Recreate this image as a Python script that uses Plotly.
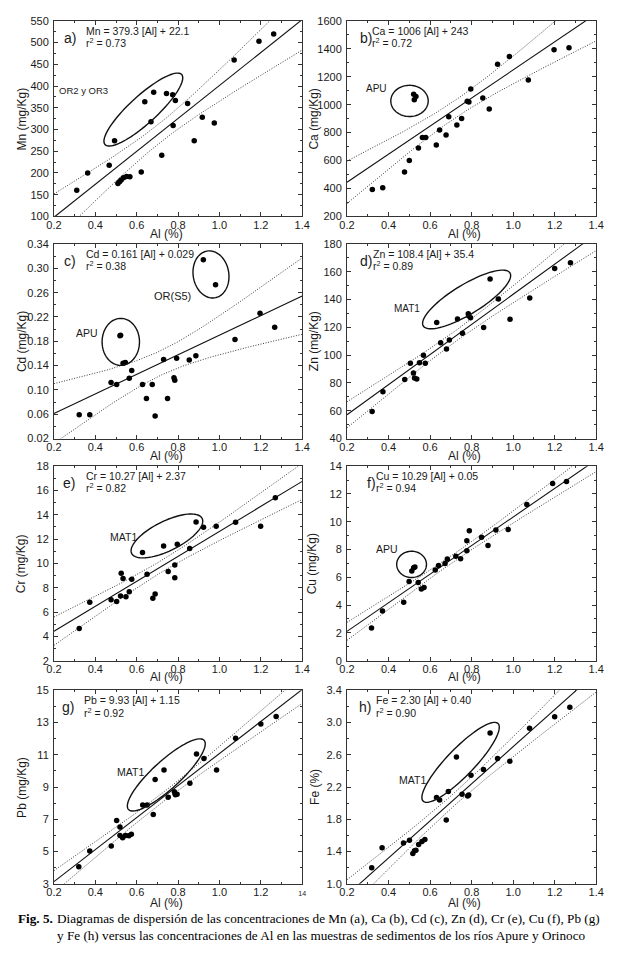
import numpy as np
import plotly.graph_objects as go

# ---------------- data ----------------
al_a = [0.310, 0.363, 0.467, 0.493, 0.509, 0.517, 0.525, 0.536, 0.551, 0.567, 0.622, 0.639, 0.669,
        0.682, 0.721, 0.744, 0.774, 0.776, 0.787, 0.846, 0.878, 0.917, 0.975, 1.071, 1.191, 1.262]
mn = [160, 200, 218, 274, 176, 180, 184, 189, 192, 191, 202, 364, 318,
      386, 241, 383, 380, 309, 367, 360, 274, 328, 315, 460, 503, 520]

al_b = [0.322, 0.372, 0.477, 0.500, 0.521, 0.532, 0.524, 0.544, 0.563, 0.579, 0.630, 0.646, 0.677,
        0.690, 0.729, 0.752, 0.779, 0.787, 0.796, 0.854, 0.885, 0.925, 0.982, 1.073, 1.197, 1.269]
ca = [393, 405, 518, 600, 1075, 1058, 1035, 689, 765, 765, 711, 819, 783,
      913, 854, 901, 1024, 1019, 1113, 1047, 969, 1289, 1346, 1177, 1393, 1407]

al_c = [0.322, 0.373, 0.476, 0.503, 0.519, 0.522, 0.534, 0.545, 0.564, 0.576, 0.628, 0.647, 0.675,
        0.689, 0.730, 0.749, 0.780, 0.784, 0.793, 0.854, 0.886, 0.922, 0.981, 1.075, 1.196, 1.267]
cd = [0.059, 0.059, 0.112, 0.109, 0.189, 0.190, 0.144, 0.145, 0.119, 0.132, 0.109, 0.086, 0.109,
      0.057, 0.150, 0.086, 0.120, 0.116, 0.152, 0.149, 0.156, 0.314, 0.273, 0.183, 0.226, 0.203]

al_d = [0.321, 0.373, 0.478, 0.505, 0.520, 0.525, 0.536, 0.549, 0.568, 0.577, 0.632, 0.651, 0.679,
        0.693, 0.732, 0.756, 0.784, 0.787, 0.795, 0.858, 0.889, 0.929, 0.985, 1.080, 1.200, 1.276]
zn = [59.5, 73.6, 82.4, 94.1, 87.1, 83.5, 82.8, 94.6, 100.0, 94.1, 123.5, 109.0, 104.5,
      111.0, 126.0, 115.8, 129.8, 128.2, 127.0, 120.0, 154.8, 140.5, 125.9, 141.2, 162.4, 166.6]

al_e = [0.322, 0.373, 0.476, 0.503, 0.522, 0.525, 0.534, 0.548, 0.564, 0.576, 0.628, 0.650, 0.678,
        0.689, 0.730, 0.752, 0.784, 0.784, 0.796, 0.856, 0.887, 0.923, 0.984, 1.078, 1.199, 1.270]
cr = [4.64, 6.80, 7.02, 6.86, 7.32, 9.20, 8.75, 7.26, 7.67, 8.69, 10.90, 9.10, 7.13,
      7.48, 11.44, 9.34, 8.83, 9.88, 11.58, 11.23, 13.41, 12.98, 13.06, 13.39, 13.06, 15.41]

al_f = [0.318, 0.371, 0.473, 0.499, 0.512, 0.521, 0.527, 0.543, 0.558, 0.571, 0.625, 0.641, 0.672,
        0.683, 0.724, 0.747, 0.777, 0.777, 0.789, 0.848, 0.879, 0.917, 0.976, 1.066, 1.190, 1.257]
cu = [2.36, 3.57, 4.20, 5.69, 6.45, 6.68, 6.75, 5.62, 5.15, 5.27, 6.52, 6.85, 6.99,
      7.32, 7.51, 7.34, 8.64, 7.91, 9.35, 8.88, 8.29, 9.40, 9.44, 11.24, 12.75, 12.89]

al_g = [0.320, 0.373, 0.477, 0.503, 0.519, 0.519, 0.532, 0.546, 0.562, 0.574, 0.629, 0.650, 0.680,
        0.689, 0.732, 0.752, 0.782, 0.787, 0.795, 0.857, 0.889, 0.925, 0.986, 1.078, 1.200, 1.274]
pb = [4.06, 5.04, 5.35, 6.92, 6.52, 6.00, 5.86, 6.00, 5.98, 6.07, 7.89, 7.89, 7.29,
      9.46, 10.05, 8.36, 8.70, 8.52, 8.56, 9.23, 11.05, 10.77, 10.05, 12.03, 12.91, 13.38]

al_h = [0.319, 0.369, 0.472, 0.501, 0.517, 0.525, 0.532, 0.545, 0.561, 0.575, 0.631, 0.646, 0.678,
        0.688, 0.727, 0.754, 0.781, 0.786, 0.797, 0.857, 0.889, 0.925, 0.984, 1.079, 1.200, 1.273]
fe = [1.200, 1.446, 1.507, 1.540, 1.376, 1.409, 1.417, 1.487, 1.523, 1.548, 2.070, 2.040, 1.790,
      2.145, 2.574, 2.110, 2.090, 2.100, 2.345, 2.419, 2.869, 2.554, 2.521, 2.930, 3.073, 3.188]

slopes = [379.3, 1006, 0.161, 108.4, 10.27, 10.29, 9.93, 2.30]
intercepts = [22.1, 243, 0.029, 35.4, 2.37, 0.05, 1.15, 0.40]
equations = ["Mn = 379.3 [Al] + 22.1", "Ca = 1006 [Al] + 243", "Cd = 0.161 [Al] + 0.029",
             "Zn = 108.4 [Al] + 35.4", "Cr = 10.27 [Al] + 2.37", "Cu = 10.29 [Al] + 0.05",
             "Pb = 9.93 [Al] + 1.15", "Fe = 2.30 [Al] + 0.40"]
r2_text = ["0.73", "0.72", "0.38", "0.89", "0.82", "0.94", "0.92", "0.90"]
panel_letters = ["a)", "b)", "c)", "d)", "e)", "f)", "g)", "h)"]
y_titles = ["Mn (mg/Kg)", "Ca (mg/Kg)", "Cd (mg/Kg)", "Zn (mg/Kg)",
            "Cr (mg/Kg)", "Cu (mg/Kg)", "Pb (mg/Kg)", "Fe (%)"]
x_ticks = [0.2, 0.4, 0.6, 0.8, 1.0, 1.2, 1.4]
x_ticktext = ["0.2", "0.4", "0.6", "0.8", "1.0", "1.2", "1.4"]

# ---------------- layout constants (page pixels) ----------------
OFF = 8                       # default page margin around the plot div
FW, FH = 620 - 2 * OFF, 959 - 2 * OFF   # figure fills the 620x959 window exactly
COLS = [(47, 302), (348, 604)]
ROWS = [(15, 213), (241, 438), (466, 663), (693, 889)]
T95 = 2.064
SANS = "Liberation Sans, Arial, sans-serif"
SERIF = "Liberation Serif, Times New Roman, serif"
INK = "#1a1a1a"


def px(xp):
    return (xp - OFF) / FW


def py(yp):
    return 1 - (yp - OFF) / FH


panels = [
    dict(x=al_a, y=mn, yr=(100, 550), dt=50, fmt="", col=0, row=0, ytx=14,
         lab_x=55, eq_x=78,
         groups=[("OR2 y OR3", 77.5, 85, 9.5)],
         ell=[(0.632, 345.9, 53, 14, 42)]),
    dict(x=al_b, y=ca, yr=(200, 1600), dt=200, fmt="", col=1, row=0, ytx=314,
         lab_x=359, eq_x=372,
         groups=[("APU", 378, 83.5, 10)],
         ell=[(0.501, 1027, 19.2, 15.8, 0)]),
    dict(x=al_c, y=cd, yr=(0.02, 0.34), dt=0.04, fmt=".2f", col=0, row=1, ytx=14,
         lab_x=55, eq_x=78,
         groups=[("APU", 81, 331.5, 10.5), ("OR(S5)", 169, 293.5, 11)],
         ell=[(0.523, 0.179, 23.8, 19.2, 90), (0.959, 0.290, 24, 18.3, 100)]),
    dict(x=al_d, y=zn, yr=(40, 180), dt=20, fmt="", col=1, row=1, ytx=314,
         lab_x=359, eq_x=373,
         groups=[("MAT1", 410, 306.5, 10)],
         ell=[(0.776, 140.1, 52, 15, 31)]),
    dict(x=al_e, y=cr, yr=(2, 18), dt=2, fmt="", col=0, row=2, ytx=14,
         lab_x=54, eq_x=78,
         groups=[("MAT1", 118.5, 537.5, 10.5)],
         ell=[(0.746, 12.26, 40.3, 15, 26)]),
    dict(x=al_f, y=cu, yr=(0, 14), dt=2, fmt="", col=1, row=2, ytx=312,
         lab_x=366, eq_x=376,
         groups=[("APU", 389.5, 550, 10.5)],
         ell=[(0.511, 6.93, 15.3, 13.3, 0)]),
    dict(x=al_g, y=pb, yr=(3, 15), dt=2, fmt="", col=0, row=3, ytx=14,
         lab_x=53, eq_x=76,
         groups=[("MAT1", 125.5, 775.5, 10.5)],
         ell=[(0.743, 9.75, 52.3, 14.2, 42)]),
    dict(x=al_h, y=fe, yr=(1.0, 3.4), dt=0.4, fmt=".1f", col=1, row=3, ytx=315,
         lab_x=358, eq_x=376,
         groups=[("MAT1", 415.5, 783.5, 10.5)],
         ell=[(0.747, 2.506, 55, 14, 45.6)]),
]

x_title_x = [163, 469]
x_title_y = [231, 456, 680, 908]

fig = go.Figure()
layout = dict(width=FW, height=FH, margin=dict(l=0, r=0, t=0, b=0),
              paper_bgcolor="white", plot_bgcolor="white", showlegend=False,
              font=dict(family=SANS, color=INK))
annotations = []
shapes = []

for i, p in enumerate(panels):
    k = "" if i == 0 else str(i + 1)
    xa, ya = "x" + k, "y" + k
    c0, c1 = COLS[p["col"]]
    r0, r1 = ROWS[p["row"]]
    wpx, hpx = c1 - c0, r1 - r0
    y0, y1 = p["yr"]
    xs = np.asarray(p["x"], float)
    ys = np.asarray(p["y"], float)
    b, a0 = slopes[i], intercepts[i]

    # 95 % confidence band about the published regression line
    n = len(xs)
    resid = ys - (a0 + b * xs)
    s = np.sqrt(np.sum(resid ** 2) / (n - 2))
    xbar = xs.mean()
    sxx = np.sum((xs - xbar) ** 2)
    xl = np.linspace(0.2, 1.4, 121)
    yl = a0 + b * xl
    half = T95 * s * np.sqrt(1.0 / n + (xl - xbar) ** 2 / sxx)

    for yy in (yl + half, yl - half):
        fig.add_trace(go.Scatter(x=xl, y=yy, mode="lines", xaxis=xa, yaxis=ya,
                                 line=dict(color="#3a3a3a", width=1, dash="1px,1.6px"),
                                 hoverinfo="skip"))
    fig.add_trace(go.Scatter(x=xl, y=yl, mode="lines", xaxis=xa, yaxis=ya,
                             line=dict(color="#111111", width=1.1), hoverinfo="skip"))
    fig.add_trace(go.Scatter(x=xs, y=ys, mode="markers", xaxis=xa, yaxis=ya,
                             marker=dict(color="black", size=5.5, line=dict(width=0))))

    ticktext = list(x_ticktext)
    if i == 6:
        ticktext[-1] = "<span style='font-size:7px'>14</span>"
    yt = np.arange(y0, y1 + p["dt"] / 2, p["dt"])
    axis_common = dict(showline=True, linecolor="#333333", linewidth=1, mirror="ticks",
                       ticks="inside", ticklen=4, tickwidth=1, tickcolor="#333333",
                       showgrid=False, zeroline=False, tickfont=dict(size=11, color=INK))
    layout["xaxis" + k] = dict(domain=[px(c0), px(c1)], anchor=ya, range=[0.2, 1.4],
                               tickmode="array", tickvals=x_ticks, ticktext=ticktext,
                               ticklabelstandoff=-2,
                               minor=dict(tickmode="linear", tick0=0.2, dtick=0.1,
                                          ticks="inside", ticklen=2, tickcolor="#333333"),
                               **axis_common)
    layout["yaxis" + k] = dict(domain=[py(r1), py(r0)], anchor=xa, range=[y0, y1],
                               tickmode="array", tickvals=list(yt),
                               ticktext=[format(v, p["fmt"]) if p["fmt"] else f"{v:g}" for v in yt],
                               ticklabelstandoff=2,
                               minor=dict(tickmode="linear", tick0=y0, dtick=p["dt"] / 2,
                                          ticks="inside", ticklen=2, tickcolor="#333333"),
                               **axis_common)

    # texts
    annotations.append(dict(text=panel_letters[i], x=px(p["lab_x"]), y=py(r0 + 17),
                            xref="paper", yref="paper", xanchor="left", yanchor="middle",
                            showarrow=False, font=dict(size=14, color=INK)))
    annotations.append(dict(text=equations[i], x=px(p["eq_x"]), y=py(r0 + 10),
                            xref="paper", yref="paper", xanchor="left", yanchor="middle",
                            showarrow=False, font=dict(size=10.5, color=INK)))
    annotations.append(dict(text="r<sup>2</sup> = " + r2_text[i], x=px(p["eq_x"]), y=py(r0 + 22),
                            xref="paper", yref="paper", xanchor="left", yanchor="middle",
                            showarrow=False, font=dict(size=10.5, color=INK)))
    for (txt, gx, gy, fs) in p["groups"]:
        annotations.append(dict(text=txt, x=px(gx), y=py(gy), xref="paper", yref="paper",
                                xanchor="center", yanchor="middle", showarrow=False,
                                font=dict(size=fs, color=INK)))
    annotations.append(dict(text=y_titles[i], x=px(p["ytx"]), y=py((r0 + r1) / 2),
                            xref="paper", yref="paper", textangle=-90,
                            xanchor="center", yanchor="middle", showarrow=False,
                            font=dict(size=12, color=INK)))
    annotations.append(dict(text="Al (%)", x=px(x_title_x[p["col"]]), y=py(x_title_y[p["row"]]),
                            xref="paper", yref="paper", xanchor="center", yanchor="middle",
                            showarrow=False, font=dict(size=12, color=INK)))

    # ellipses (centre in data units, semi-axes in screen px, angle in degrees)
    for (ecx, ecy, ea, eb, eang) in p["ell"]:
        th = np.radians(eang)
        t = np.linspace(0, 2 * np.pi, 90)
        dxp = ea * np.cos(t) * np.cos(th) - eb * np.sin(t) * np.sin(th)
        dyp = ea * np.cos(t) * np.sin(th) + eb * np.sin(t) * np.cos(th)
        ex = ecx + dxp * (1.2 / wpx)
        ey = ecy + dyp * ((y1 - y0) / hpx)
        path = "M " + " L ".join(f"{u:.5f},{v:.5f}" for u, v in zip(ex, ey)) + " Z"
        shapes.append(dict(type="path", path=path, xref=xa, yref=ya,
                           line=dict(color="#111111", width=1.4)))

# caption
cap_font = dict(family=SERIF, size=13.2, color="black")
annotations.append(dict(text="<b>Fig. 5.</b>", x=px(8), y=py(924), xref="paper", yref="paper",
                        xanchor="left", yanchor="middle", showarrow=False, font=cap_font))
annotations.append(dict(text="Diagramas de dispersión de las concentraciones de Mn (a), Ca (b), Cd (c), "
                             "Zn (d), Cr (e), Cu (f), Pb (g)",
                        x=px(48), y=py(924), xref="paper", yref="paper",
                        xanchor="left", yanchor="middle", showarrow=False, font=cap_font))
annotations.append(dict(text="y Fe (h) versus las concentraciones de Al en las muestras de sedimentos "
                             "de los ríos Apure y Orinoco",
                        x=px(48), y=py(941.5), xref="paper", yref="paper",
                        xanchor="left", yanchor="middle", showarrow=False, font=cap_font))

layout["annotations"] = annotations
layout["shapes"] = shapes
fig.update_layout(**layout)
fig.write_html("out.html")
